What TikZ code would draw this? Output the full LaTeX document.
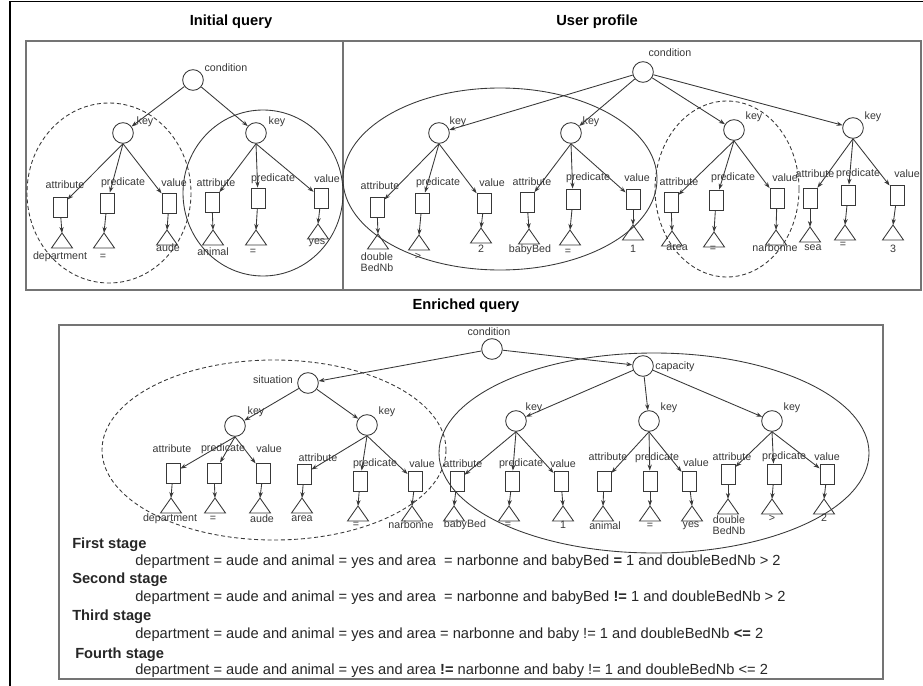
\documentclass[tikz,border=0pt]{standalone}
\usepackage{fontspec}
\setmainfont{Liberation Sans}
\usetikzlibrary{arrows.meta}
\definecolor{ink}{HTML}{383838}
\definecolor{frame}{HTML}{747474}
\tikzset{
  knot/.style={circle,draw=ink,line width=0.65pt,minimum size=15.5pt,inner sep=0pt},
  slot/.style={rectangle,draw=ink,line width=0.65pt,minimum width=10.5pt,minimum height=15pt,inner sep=0pt},
  tag/.style={font=\fontsize{8}{8.6}\selectfont,text=ink,inner sep=0pt,align=center},
  head/.style={font=\fontsize{11}{13}\selectfont\bfseries,inner sep=0pt},
  stage/.style={font=\fontsize{11}{13}\selectfont,text=black!85,inner sep=0pt,anchor=west},
  link/.style={draw=ink,line width=0.65pt,-{Stealth[length=4.5pt,width=3.2pt]}},
  ring/.style={draw=ink,line width=0.65pt},
  dring/.style={draw=ink,line width=0.65pt,dash pattern=on 3pt off 2pt},
  box/.style={draw=frame,line width=1.2pt}
}
\begin{document}
\begin{tikzpicture}[x=0.75pt,y=-0.75pt]
\useasboundingbox (0,0) rectangle (923,685);
% frames
\draw[black,line width=0.8pt] (10,686) -- (10,1.5) -- (923,1.5);
\draw[box] (26,41) rectangle (921,290);
\draw[box] (343,41) -- (343,290);
\draw[box] (59,325) rectangle (883,679);
\node[head] (hInit) at (231,22) {Initial query};
\node[head] (hUser) at (597,22) {User profile};
\node[head] (hEnr) at (466,306) {Enriched query};

% initial query
\node[knot] (cond1) at (193,80) {};
\node[tag] (cond1-l) at (226,68) {condition};
\node[knot] (kL1) at (123,133) {};
\node[tag] (kL1-l) at (145,122) {key};
\node[knot] (kL2) at (256,133) {};
\node[tag] (kL2-l) at (277,122) {key};
\draw[link] (cond1) -- (kL1);
\draw[link] (cond1) -- (kL2);
\foreach \s/\x/\y/\ax/\ay/\a/\tx/\ty/\vx/\vy/\v in {
  la/60/207/65/185/attribute/62/233/60/257/department,
  lb/107/203/123/183/predicate/104/233/103/257/=,
  lc/169/203/174/183/value/167/230/168/248/aude}{
  \node[slot] (\s) at (\x,\y) {};
  \node[tag] (\s-a) at (\ax,\ay) {\a};
  \draw[ink,line width=0.65pt] (\tx,\ty) -- ++(-10.5,15) -- ++(21,0) -- cycle;
  \coordinate (\s-t) at (\tx,\ty);
  \node[tag] (\s-v) at (\vx,\vy) {\v};
  \draw[link] (kL1.south) -- (\s);
  \draw[link] (\s) -- (\s-t);
}
\foreach \s/\x/\y/\ax/\ay/\a/\tx/\ty/\vx/\vy/\v in {
  ld/212/202/216/183/attribute/213/230/213/252/animal,
  le/258/198/273/179/predicate/256/230/253/252/=,
  lf/321/198/327/179/value/318/224/317/243/yes}{
  \node[slot] (\s) at (\x,\y) {};
  \node[tag] (\s-a) at (\ax,\ay) {\a};
  \draw[ink,line width=0.65pt] (\tx,\ty) -- ++(-10.5,15) -- ++(21,0) -- cycle;
  \coordinate (\s-t) at (\tx,\ty);
  \node[tag] (\s-v) at (\vx,\vy) {\v};
  \draw[link] (kL2.south) -- (\s);
  \draw[link] (\s) -- (\s-t);
}
\draw[dring] (109,193) ellipse [x radius=82, y radius=90];
\draw[ring] (263,193) ellipse [x radius=80, y radius=83];

% user profile
\node[knot] (cond2) at (643,72) {};
\node[tag] (cond2-l) at (670,53) {condition};
\foreach \k/\x/\y/\lx/\ly in {kR1/439/133/458/122, kR2/571/133/591/122,
                              kR3/734/130/754/117, kR4/853/128/873/117}{
  \node[knot] (\k) at (\x,\y) {};
  \node[tag] (\k-l) at (\lx,\ly) {key};
  \draw[link] (cond2) -- (\k);
}
\foreach \s/\x/\y/\ax/\ay/\a/\tx/\ty/\vx/\vy/\v in {
  ra/377/207/380/186/attribute/378/234/377/262/{double\\BedNb},
  rb/422/203/438/183/predicate/419/235/418/256/>,
  rc/484/203/492/183/value/481/228/481/249/2}{
  \node[slot] (\s) at (\x,\y) {};
  \node[tag] (\s-a) at (\ax,\ay) {\a};
  \draw[ink,line width=0.65pt] (\tx,\ty) -- ++(-10.5,15) -- ++(21,0) -- cycle;
  \coordinate (\s-t) at (\tx,\ty);
  \node[tag] (\s-v) at (\vx,\vy) {\v};
  \draw[link] (kR1.south) -- (\s);
  \draw[link] (\s) -- (\s-t);
}
\foreach \s/\x/\y/\ax/\ay/\a/\tx/\ty/\vx/\vy/\v in {
  rd/527/202/532/182/attribute/529/229/530/250/babyBed,
  re/573/199/588/178/predicate/570/230/568/252/=,
  rf/633/199/637/178/value/633/225/633/249/1}{
  \node[slot] (\s) at (\x,\y) {};
  \node[tag] (\s-a) at (\ax,\ay) {\a};
  \draw[ink,line width=0.65pt] (\tx,\ty) -- ++(-10.5,15) -- ++(21,0) -- cycle;
  \coordinate (\s-t) at (\tx,\ty);
  \node[tag] (\s-v) at (\vx,\vy) {\v};
  \draw[link] (kR2.south) -- (\s);
  \draw[link] (\s) -- (\s-t);
}
\foreach \s/\x/\y/\ax/\ay/\a/\tx/\ty/\vx/\vy/\v in {
  rg/671/202/679/182/attribute/672/231/677/248/area,
  rh/716/200/733/178/predicate/714/232/713/249/=,
  ri/777/198/785/178/value/776/230/775/248/narbonne}{
  \node[slot] (\s) at (\x,\y) {};
  \node[tag] (\s-a) at (\ax,\ay) {\a};
  \draw[ink,line width=0.65pt] (\tx,\ty) -- ++(-10.5,15) -- ++(21,0) -- cycle;
  \coordinate (\s-t) at (\tx,\ty);
  \node[tag] (\s-v) at (\vx,\vy) {\v};
  \draw[link] (kR3.south) -- (\s);
  \draw[link] (\s) -- (\s-t);
}
\foreach \s/\x/\y/\ax/\ay/\a/\tx/\ty/\vx/\vy/\v in {
  rj/810/198/815/174/attribute/810/227/813/248/sea,
  rk/848/195/858/174/predicate/845/225/843/245/=,
  rl/897/195/907/174/value/893/225/893/249/3}{
  \node[slot] (\s) at (\x,\y) {};
  \node[tag] (\s-a) at (\ax,\ay) {\a};
  \draw[ink,line width=0.65pt] (\tx,\ty) -- ++(-10.5,15) -- ++(21,0) -- cycle;
  \coordinate (\s-t) at (\tx,\ty);
  \node[tag] (\s-v) at (\vx,\vy) {\v};
  \draw[link] (kR4.south) -- (\s);
  \draw[link] (\s) -- (\s-t);
}
\draw[ring] (500,179) ellipse [x radius=157, y radius=91];
\draw[dring] (727,189) ellipse [x radius=72, y radius=88];

% enriched query
\node[knot] (cond3) at (492,349) {};
\node[tag] (cond3-l) at (489,332) {condition};
\node[knot] (sit) at (308,383) {};
\node[tag] (sit-l) at (273,380) {situation};
\node[knot] (cap) at (643,366) {};
\node[tag] (cap-l) at (675,367) {capacity};
\draw[link] (cond3) -- (sit);
\draw[link] (cond3) -- (cap);
\foreach \k/\p/\x/\y/\lx/\ly in {kS1/sit/235/426/256/412, kS2/sit/367/425/387/412,
  kC1/cap/516/421/534/408, kC2/cap/649/421/669/408, kC3/cap/772/421/792/408}{
  \node[knot] (\k) at (\x,\y) {};
  \node[tag] (\k-l) at (\lx,\ly) {key};
  \draw[link] (\p) -- (\k);
}
\foreach \s/\x/\y/\ax/\ay/\a/\tx/\ty/\vx/\vy/\v in {
  sa/173/473/172/449/attribute/171/498/170/519/department,
  sb/214/473/223/449/predicate/215/498/213/519/=,
  sc/263/473/269/449/value/260/498/262/519/aude}{
  \node[slot] (\s) at (\x,\y) {};
  \node[tag] (\s-a) at (\ax,\ay) {\a};
  \draw[ink,line width=0.65pt] (\tx,\ty) -- ++(-10.5,15) -- ++(21,0) -- cycle;
  \coordinate (\s-t) at (\tx,\ty);
  \node[tag] (\s-v) at (\vx,\vy) {\v};
  \draw[link] (kS1.south) -- (\s);
  \draw[link] (\s) -- (\s-t);
}
\foreach \s/\x/\y/\ax/\ay/\a/\tx/\ty/\vx/\vy/\v in {
  sd/304/474/318/458/attribute/302/498/302/519/area,
  se/360/481/375/464/predicate/358/506/356/525/=,
  sf/415/481/422/464/value/412/506/411/525/narbonne}{
  \node[slot] (\s) at (\x,\y) {};
  \node[tag] (\s-a) at (\ax,\ay) {\a};
  \draw[ink,line width=0.65pt] (\tx,\ty) -- ++(-10.5,15) -- ++(21,0) -- cycle;
  \coordinate (\s-t) at (\tx,\ty);
  \node[tag] (\s-v) at (\vx,\vy) {\v};
  \draw[link] (kS2.south) -- (\s);
  \draw[link] (\s) -- (\s-t);
}
\foreach \s/\x/\y/\ax/\ay/\a/\tx/\ty/\vx/\vy/\v in {
  ca/457/481/463/464/attribute/454/506/465/525/babyBed,
  cb/512/481/521/464/predicate/509/506/508/525/=,
  cc/561/481/563/464/value/563/506/563/525/1}{
  \node[slot] (\s) at (\x,\y) {};
  \node[tag] (\s-a) at (\ax,\ay) {\a};
  \draw[ink,line width=0.65pt] (\tx,\ty) -- ++(-10.5,15) -- ++(21,0) -- cycle;
  \coordinate (\s-t) at (\tx,\ty);
  \node[tag] (\s-v) at (\vx,\vy) {\v};
  \draw[link] (kC1.south) -- (\s);
  \draw[link] (\s) -- (\s-t);
}
\foreach \s/\x/\y/\ax/\ay/\a/\tx/\ty/\vx/\vy/\v in {
  cd/604/481/608/457/attribute/603/506/605/526/animal,
  ce/650/481/657/458/predicate/650/506/650/526/=,
  cf/689/481/696/463/value/692/506/691/526/yes}{
  \node[slot] (\s) at (\x,\y) {};
  \node[tag] (\s-a) at (\ax,\ay) {\a};
  \draw[ink,line width=0.65pt] (\tx,\ty) -- ++(-10.5,15) -- ++(21,0) -- cycle;
  \coordinate (\s-t) at (\tx,\ty);
  \node[tag] (\s-v) at (\vx,\vy) {\v};
  \draw[link] (kC2.south) -- (\s);
  \draw[link] (\s) -- (\s-t);
}
\foreach \s/\x/\y/\ax/\ay/\a/\tx/\ty/\vx/\vy/\v in {
  cg/728/474/732/457/attribute/728/499/729/525/{double\\BedNb},
  ch/774/474/784/457/predicate/772/499/772/518/>,
  ci/827/474/827/457/value/824/499/824/518/2}{
  \node[slot] (\s) at (\x,\y) {};
  \node[tag] (\s-a) at (\ax,\ay) {\a};
  \draw[ink,line width=0.65pt] (\tx,\ty) -- ++(-10.5,15) -- ++(21,0) -- cycle;
  \coordinate (\s-t) at (\tx,\ty);
  \node[tag] (\s-v) at (\vx,\vy) {\v};
  \draw[link] (kC3.south) -- (\s);
  \draw[link] (\s) -- (\s-t);
}
\draw[dring] (274,450) ellipse [x radius=172, y radius=90];
\draw[ring] (654,453) ellipse [x radius=215, y radius=100];

% stages
\node[stage,font=\fontsize{11}{13}\selectfont\bfseries] (st1) at (72,545) {First stage};
\node[stage] (q1) at (135,562) {department = aude and animal = yes and area~ = narbonne and babyBed \textbf{=} 1 and doubleBedNb > 2};
\node[stage,font=\fontsize{11}{13}\selectfont\bfseries] (st2) at (72,580) {Second stage};
\node[stage] (q2) at (135,598) {department = aude and animal = yes and area~ = narbonne and babyBed \textbf{!=} 1 and doubleBedNb > 2};
\node[stage,font=\fontsize{11}{13}\selectfont\bfseries] (st3) at (72,617) {Third stage};
\node[stage] (q3) at (135,635) {department = aude and animal = yes and area = narbonne and baby != 1 and doubleBedNb \textbf{<=} 2};
\node[stage,font=\fontsize{11}{13}\selectfont\bfseries] (st4) at (75,655) {Fourth stage};
\node[stage] (q4) at (135,671) {department = aude and animal = yes and area \textbf{!=} narbonne and baby != 1 and doubleBedNb <= 2};
\end{tikzpicture}
\end{document}
